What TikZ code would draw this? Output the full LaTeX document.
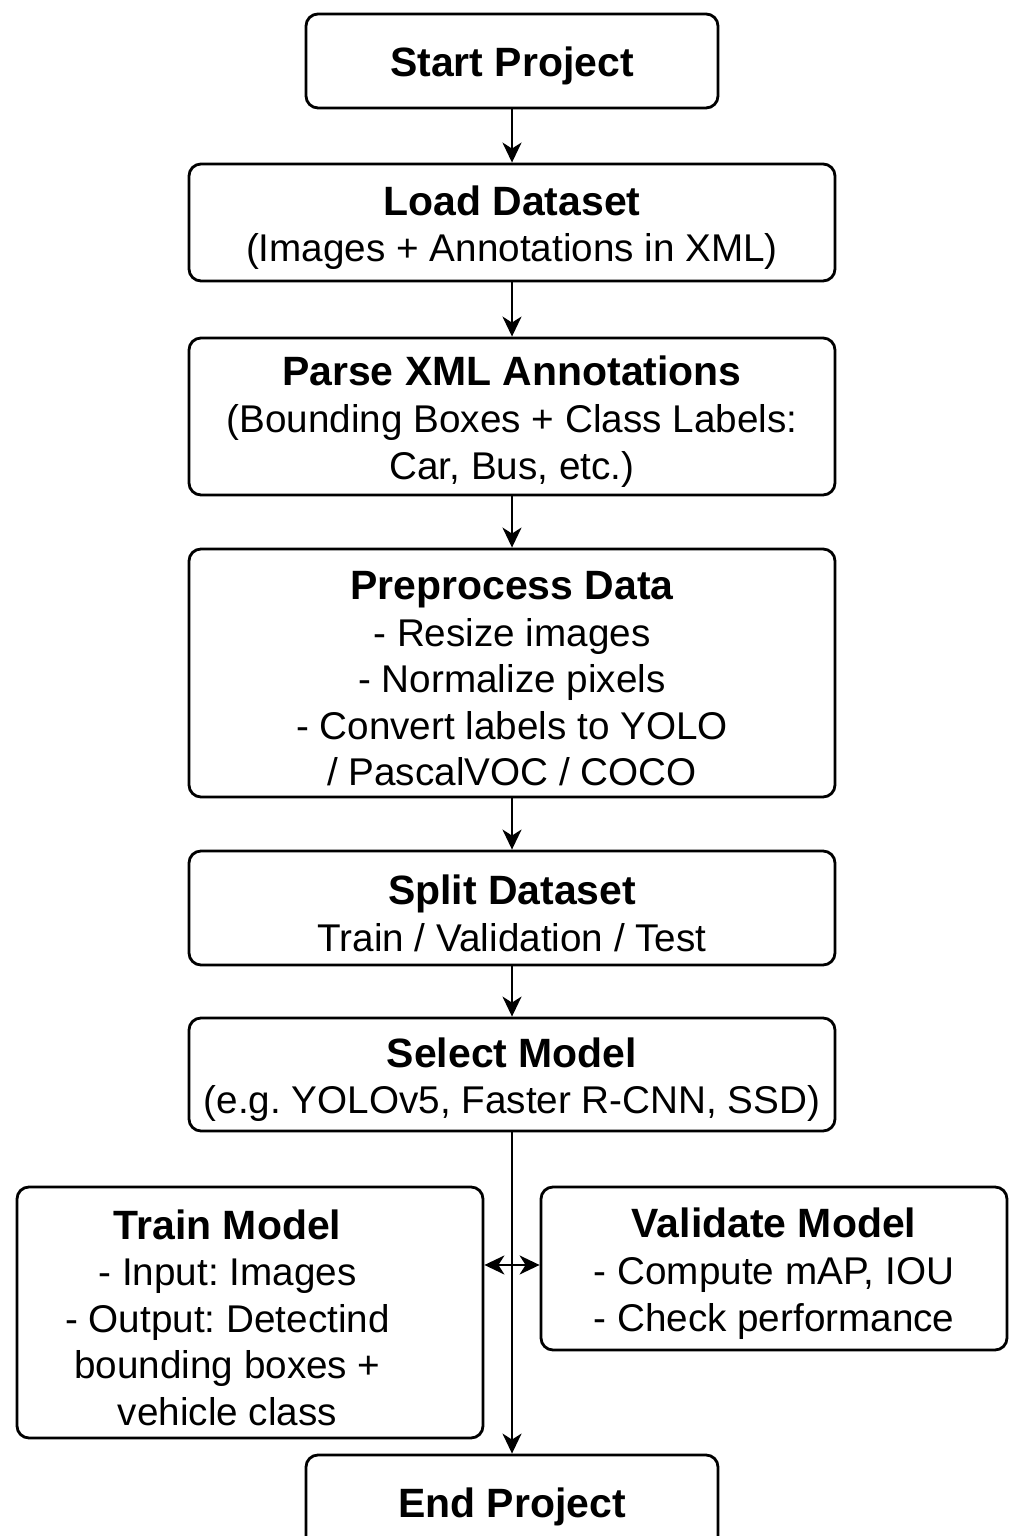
\documentclass[tikz,border=0pt]{standalone}
\usepackage{fontspec}
\setmainfont{Liberation Sans}
\usetikzlibrary{arrows.meta}
\frenchspacing

\tikzset{
  stepbox/.style={draw, line width=1.6pt, rounded corners=0.24cm, align=center,
    font=\fontsize{22}{26.5}\selectfont, inner sep=0pt},
  arr/.style={line width=1.3pt, -{Stealth[length=0.4cm, width=0.38cm, inset=0.12cm]}},
  darr/.style={line width=1.3pt, {Stealth[length=0.4cm, width=0.38cm, inset=0.12cm]}-{Stealth[length=0.4cm, width=0.38cm, inset=0.12cm]}},
}
\newcommand{\boxtitle}[1]{{\fontsize{23.3}{26.5}\selectfont\bfseries\rule{0pt}{0.8cm}#1}}
\newcommand{\lpad}{\rule{0.9cm}{0pt}}

\begin{document}
\begin{tikzpicture}
  \useasboundingbox (0,0) rectangle (20.48,30.72);

  % main column
  \node[stepbox, minimum width=8.24cm, minimum height=1.88cm] (start) at (10.24,29.5) {\boxtitle{Start Project}};
  \node[stepbox, minimum width=12.92cm, minimum height=2.34cm] (load) at (10.24,26.27)
    {\boxtitle{Load Dataset}\\(Images + Annotations in XML)};
  \node[stepbox, minimum width=12.92cm, minimum height=3.14cm] (parse) at (10.24,22.39)
    {\boxtitle{Parse XML Annotations}\\(Bounding Boxes + Class Labels:\\Car, Bus, etc.)};
  \node[stepbox, minimum width=12.92cm, minimum height=4.96cm] (prep) at (10.24,17.26)
    {\boxtitle{Preprocess Data}\\- Resize images\\- Normalize pixels\\- Convert labels to YOLO\\/ PascalVOC / COCO};
  \node[stepbox, minimum width=12.92cm, minimum height=2.28cm] (split) at (10.24,12.56)
    {\boxtitle{Split Dataset}\\Train / Validation / Test};
  \node[stepbox, minimum width=12.92cm, minimum height=2.26cm] (select) at (10.24,9.23)
    {\boxtitle{Select Model}\\(e.g. YOLOv5, Faster R-CNN, SSD)};

  % side boxes
  \node[stepbox, minimum width=9.32cm, minimum height=5.02cm] (train) at (5.0,4.47)
    {\boxtitle{Train Model}\lpad\\- Input: Images\lpad\\- Output: Detectind\lpad\\bounding boxes +\lpad\\vehicle class\lpad};
  \node[stepbox, minimum width=9.32cm, minimum height=3.26cm] (valid) at (15.48,5.35)
    {\boxtitle{Validate Model}\\- Compute mAP, IOU\\- Check performance};

  \node[stepbox, minimum width=8.24cm, minimum height=1.88cm] (end) at (10.24,0.68) {\boxtitle{End Project}};

  % arrows
  \draw[arr] (start) -- (load);
  \draw[arr] (load) -- (parse);
  \draw[arr] (parse) -- (prep);
  \draw[arr] (prep) -- (split);
  \draw[arr] (split) -- (select);
  \draw[arr] (select) -- (end);
  \draw[darr] ([yshift=0.07cm]train.east |- valid.west) -- ([yshift=0.07cm]valid.west);
\end{tikzpicture}
\end{document}
